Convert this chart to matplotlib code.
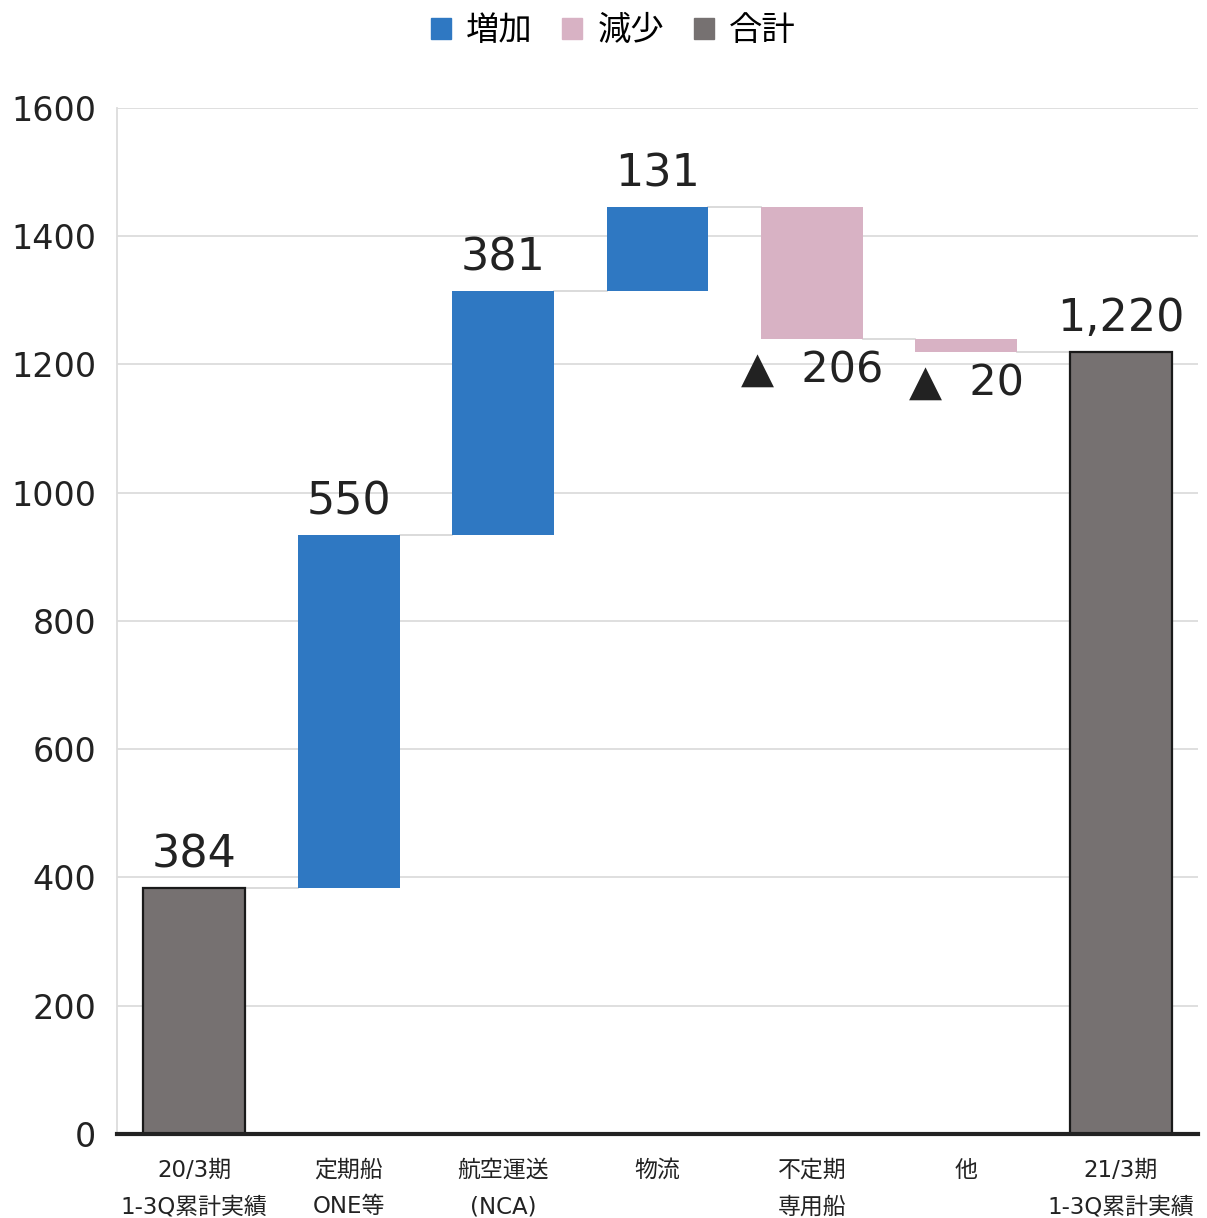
import matplotlib.pyplot as plt
from matplotlib.patches import Patch

plt.rcParams['font.family'] = ['DejaVu Sans', 'Noto Sans CJK JP']

# data
categories = ['20/3期\n1-3Q累計実績', '定期船\nONE等', '航空運送\n(NCA)', '物流',
              '不定期\n専用船', '他', '21/3期\n1-3Q累計実績']
values = [384, 550, 381, 131, -206, -20, 1220]
kinds = ['total', 'up', 'up', 'up', 'down', 'down', 'total']
labels = ['384', '550', '381', '131', '▲  206', '▲  20', '1,220']
yticks = [0, 200, 400, 600, 800, 1000, 1200, 1400, 1600]

colors = {'up': '#2F78C2', 'down': '#D8B2C4', 'total': '#767171'}
bar_w = 0.66

fig = plt.figure(figsize=(12.07, 12.18), dpi=100)
ax = fig.add_axes([0.097, 0.069, 0.8955, 0.8424])

# work out bottoms / tops of each floating bar
bottoms, heights = [], []
level = 0
for v, k in zip(values, kinds):
    if k == 'total':
        bottoms.append(0)
        heights.append(v)
        level = v
    else:
        if v >= 0:
            bottoms.append(level)
        else:
            bottoms.append(level + v)
        heights.append(abs(v))
        level += v

x = list(range(len(values)))
for i in x:
    k = kinds[i]
    if k == 'total':
        ax.bar(i, heights[i], bottom=bottoms[i], width=bar_w, color=colors[k],
               edgecolor='#1a1a1a', linewidth=1.6, zorder=3)
    else:
        ax.bar(i, heights[i], bottom=bottoms[i], width=bar_w, color=colors[k],
               linewidth=0, zorder=3)

# connector lines between bars
level = 0
for i in range(len(values) - 1):
    if kinds[i] == 'total':
        level = values[i]
    else:
        level += values[i]
    ax.plot([i + bar_w / 2, i + 1 - bar_w / 2], [level, level],
            color='#D4D4D4', lw=1.2, zorder=2)

# value labels
for i in x:
    if values[i] >= 0:
        ax.annotate(labels[i], (i, bottoms[i] + heights[i]), xytext=(0, 8),
                    textcoords='offset points', ha='center', va='bottom',
                    fontsize=32, color='#222222')
    else:
        ax.annotate(labels[i], (i, bottoms[i]), xytext=(0, -7),
                    textcoords='offset points', ha='center', va='top',
                    fontsize=31, color='#222222')

ax.set_xlim(-0.5, len(values) - 0.5)
ax.set_ylim(0, 1600)
ax.set_yticks(yticks)
ax.set_yticklabels([str(t) for t in yticks], fontsize=24, color='#222222')
ax.set_xticks(x)
ax.set_xticklabels(categories, fontsize=16.5, color='#222222', linespacing=1.75)
ax.tick_params(axis='both', length=0)
ax.tick_params(axis='y', pad=15)
ax.tick_params(axis='x', pad=18)

ax.grid(axis='y', color='#DCDCDC', lw=1.3, zorder=0)
ax.set_axisbelow(True)
for s in ['top', 'right']:
    ax.spines[s].set_visible(False)
ax.spines['left'].set_color('#DCDCDC')
ax.spines['left'].set_linewidth(1.3)
ax.spines['bottom'].set_color('#222222')
ax.spines['bottom'].set_linewidth(3)
ax.spines['bottom'].set_zorder(4)

handles = [Patch(color=colors['up'], label='増加'),
           Patch(color=colors['down'], label='減少'),
           Patch(color=colors['total'], label='合計')]
fig.legend(handles=handles, loc='center', bbox_to_anchor=(0.508, 0.975), ncol=3,
           frameon=False, handlelength=0.6, handleheight=0.6,
           handletextpad=0.45, columnspacing=0.9,
           prop={'family': ['DejaVu Sans', 'Noto Sans CJK JP'], 'size': 24})

fig.savefig('out.png', dpi=100)
plt.close(fig)
